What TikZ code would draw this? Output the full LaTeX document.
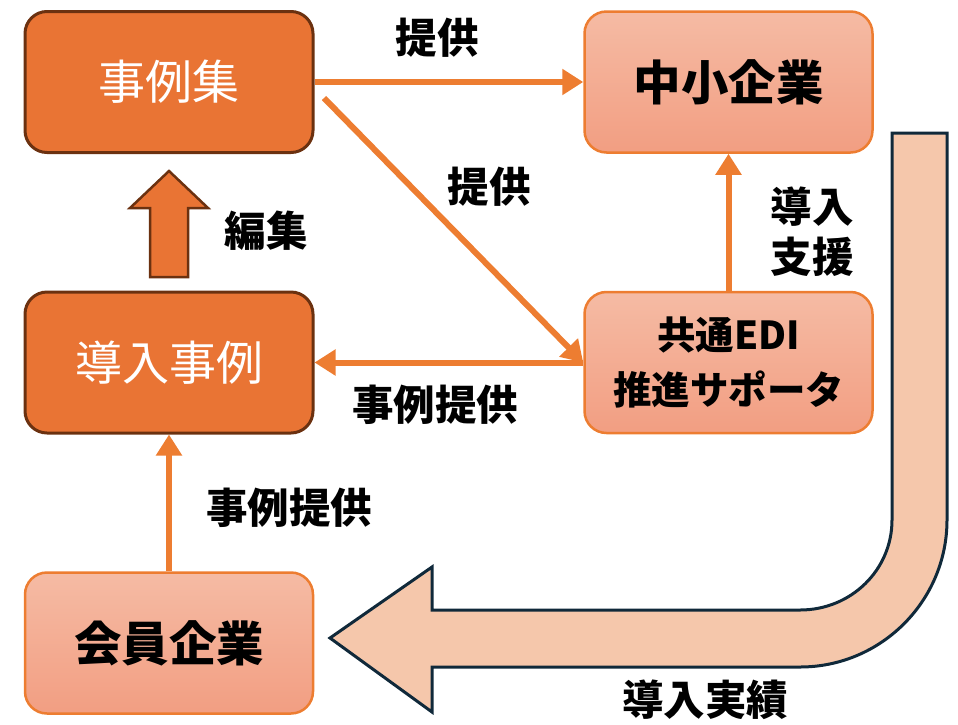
\documentclass[tikz,border=0pt]{standalone}
\usepackage{fontspec}
\newfontfamily\jp{Noto Sans CJK JP}
\usetikzlibrary{arrows.meta,calc}
\definecolor{dorange}{HTML}{E97434}
\definecolor{dbrown}{HTML}{6B3110}
\definecolor{lorangeT}{HTML}{F5BBA4}
\definecolor{lorangeB}{HTML}{F29E82}
\definecolor{aorange}{HTML}{ED7D31}
\definecolor{ufill}{HTML}{F5C7AB}
\definecolor{unavy}{HTML}{10293A}
\tikzset{
  darkbox/.style={draw=dbrown, line width=3pt, fill=dorange, rounded corners=22pt,
    minimum width=288pt, minimum height=141pt, inner sep=0pt, text=white,
    font=\jp\fontsize{47}{52}\selectfont},
  lightbox/.style={draw=aorange, line width=2.5pt, top color=lorangeT, bottom color=lorangeB,
    rounded corners=22pt, minimum width=288pt, minimum height=141pt, inner sep=0pt,
    text=black, font=\jp\bfseries\fontsize{47.5}{52}\selectfont},
  conn/.style={draw=aorange, line width=6pt, -{Triangle[length=21pt,width=25pt]}},
  lbl/.style={font=\jp\bfseries\fontsize{41.5}{48}\selectfont, text=black, inner sep=0pt, align=center}
}
\begin{document}
\begin{tikzpicture}[x=1pt,y=-1pt]
\useasboundingbox (0,0) rectangle (958,724);
% U-turn arrow
\draw[fill=ufill, draw=unavy, line width=3pt, line join=miter]
  (892,133) -- (947,133) -- (947,520)
  .. controls (947,601) and (881,667) .. (800,667)
  -- (432,667) -- (432,712) -- (330,638) -- (432,567) -- (432,610) -- (800,610)
  .. controls (851,610) and (892,570) .. (892,520) -- cycle;
% boxes
\node[darkbox] (jirei) at (169,82) {事例集};
\node[lightbox] (chusho) at (728.5,82) {中小企業};
\node[darkbox] (donyu) at (169,362.5) {導入事例};
\node[lightbox, font=\jp\bfseries\fontsize{38.5}{55}\selectfont, align=center] (edi) at (728.5,362.5) {共通EDI\\推進サポータ};
\node[lightbox] (kaiin) at (169,643) {会員企業};
% block arrow 編集
\draw[fill=dorange, draw=dbrown, line width=2.5pt]
  (150,277) -- (188,277) -- (188,208) -- (208,208) -- (169,171) -- (130,208) -- (150,208) -- cycle;
% connectors
\coordinate (d1) at (324,98);
\draw[conn] (jirei.east) -- (chusho.west);
\draw[conn] (d1) -- (edi.west);
\draw[conn] (edi.west) -- (donyu.east);
\draw[conn] (edi.north) -- (chusho.south);
\draw[conn] (kaiin.north) -- (donyu.south);
% labels
\node[lbl] (l1) at (437,38) {提供};
\node[lbl] (l2) at (489,187) {提供};
\node[lbl] (l3) at (266,231) {編集};
\node[lbl] (l4) at (435,405) {事例提供};
\node[lbl, font=\jp\bfseries\fontsize{41.5}{50}\selectfont] (l5) at (812,232) {導入\\支援};
\node[lbl] (l6) at (289,508) {事例提供};
\node[lbl] (l7) at (705,700) {導入実績};
\end{tikzpicture}
\end{document}
